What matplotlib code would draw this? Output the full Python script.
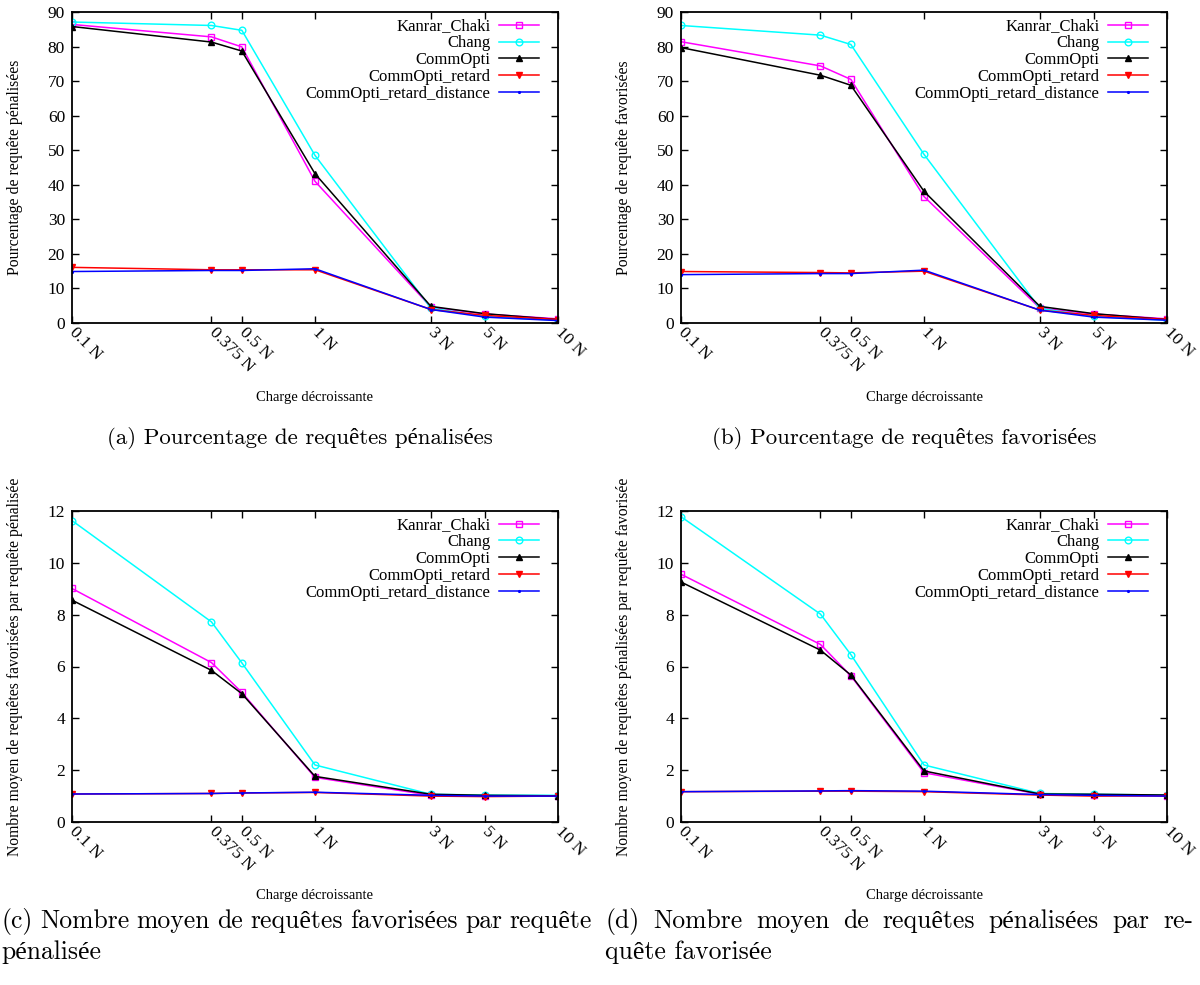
import matplotlib
matplotlib.use("Agg")
import matplotlib.pyplot as plt
from matplotlib.ticker import FixedLocator, NullLocator, FixedFormatter

plt.rcParams['font.family'] = ['Liberation Serif', 'DejaVu Serif']

# ---------------- data ----------------
charge = [0.1, 0.375, 0.5, 1, 3, 5, 10]
charge_labels = ['0.1 N', '0.375 N', '0.5 N', '1 N', '3 N', '5 N', '10 N']
series_names = ['Kanrar_Chaki', 'Chang', 'CommOpti', 'CommOpti_retard', 'CommOpti_retard_distance']

# (a) Pourcentage de requetes penalisees
a_kanrar = [86.4, 82.8, 79.9, 41.0, 4.6, 2.6, 1.2]
a_chang = [87.1, 86.1, 84.7, 48.5, 4.3, 1.9, 0.8]
a_commopti = [85.8, 81.3, 78.7, 43.2, 4.8, 2.7, 1.0]
a_retard = [16.1, 15.4, 15.4, 15.4, 3.9, 2.2, 1.0]
a_distance = [14.9, 15.2, 15.2, 15.7, 3.9, 1.7, 0.7]

# (b) Pourcentage de requetes favorisees
b_kanrar = [81.4, 74.4, 70.5, 36.6, 4.3, 2.6, 1.2]
b_chang = [86.1, 83.3, 80.6, 48.8, 4.2, 1.9, 0.8]
b_commopti = [79.7, 71.7, 68.8, 38.1, 4.8, 2.7, 1.0]
b_retard = [14.9, 14.6, 14.5, 15.0, 3.7, 2.2, 1.0]
b_distance = [14.0, 14.3, 14.3, 15.3, 3.7, 1.7, 0.8]

# (c) Nombre moyen de requetes favorisees par requete penalisee
c_kanrar = [9.01, 6.15, 5.00, 1.72, 1.03, 1.00, 1.01]
c_chang = [11.63, 7.72, 6.14, 2.20, 1.07, 1.04, 1.03]
c_commopti = [8.56, 5.85, 4.95, 1.76, 1.07, 1.03, 1.01]
c_retard = [1.08, 1.10, 1.12, 1.14, 1.00, 0.98, 1.00]
c_distance = [1.08, 1.10, 1.12, 1.15, 1.03, 1.00, 1.00]

# (d) Nombre moyen de requetes penalisees par requete favorisee
d_kanrar = [9.56, 6.85, 5.64, 1.90, 1.07, 1.05, 1.01]
d_chang = [11.78, 8.02, 6.46, 2.20, 1.10, 1.07, 1.04]
d_commopti = [9.26, 6.63, 5.67, 1.97, 1.08, 1.07, 1.04]
d_retard = [1.17, 1.19, 1.19, 1.17, 1.04, 1.00, 1.01]
d_distance = [1.17, 1.20, 1.21, 1.19, 1.06, 1.03, 1.00]

panel_ylabels = ['Pourcentage de requête pénalisées',
                 'Pourcentage de requête favorisées',
                 'Nombre moyen de requêtes favorisées par requête pénalisée',
                 'Nombre moyen de requêtes pénalisées par requête favorisée']
xlabel_text = 'Charge décroissante'
captions_top = ['(a) Pourcentage de requêtes pénalisées',
                '(b) Pourcentage de requêtes favorisées']
caption_c = ['(c) Nombre moyen de requêtes favorisées par requête', 'pénalisée']
caption_d = ['(d) Nombre moyen de requêtes pénalisées par re-', 'quête favorisée']

panels = [
    [a_kanrar, a_chang, a_commopti, a_retard, a_distance],
    [b_kanrar, b_chang, b_commopti, b_retard, b_distance],
    [c_kanrar, c_chang, c_commopti, c_retard, c_distance],
    [d_kanrar, d_chang, d_commopti, d_retard, d_distance],
]
ylims = [(0, 90), (0, 90), (0, 12), (0, 12)]
yticks = [list(range(0, 91, 10)), list(range(0, 91, 10)), list(range(0, 13, 2)), list(range(0, 13, 2))]

styles = [
    dict(color='#ff00ff', marker='s', markerfacecolor='none', markersize=4.8, markeredgewidth=1.0),
    dict(color='#00ffff', marker='o', markerfacecolor='none', markersize=4.8, markeredgewidth=1.0),
    dict(color='#000000', marker='^', markersize=4.8),
    dict(color='#ff0000', marker='v', markersize=4.8),
    dict(color='#0000ff', marker='.', markersize=2.5),
]

W, H = 1200, 985
fig = plt.figure(figsize=(W / 100, H / 100), dpi=100)

# axes boxes in pixels: (left, top, right, bottom)
boxes = [(72, 12, 558, 323), (681, 12, 1167, 323), (72, 511, 558, 822), (681, 511, 1167, 822)]

for i, (l, t, r, b) in enumerate(boxes):
    ax = fig.add_axes([l / W, 1 - b / H, (r - l) / W, (b - t) / H])
    for name, vals, st in zip(series_names, panels[i], styles):
        ax.plot(charge, vals, label=name, lw=1.1, **st)
    ax.set_xscale('log')
    ax.set_xlim(0.1, 10)
    ax.set_ylim(*ylims[i])
    ax.xaxis.set_major_locator(FixedLocator(charge))
    ax.xaxis.set_major_formatter(FixedFormatter(charge_labels))
    ax.xaxis.set_minor_locator(NullLocator())
    ax.set_yticks(yticks[i])
    ax.tick_params(axis='both', direction='in', length=5, width=1.0, labelsize=12.5,
                   top=True, right=True, pad=5)
    for lab in ax.get_xticklabels():
        lab.set_rotation(-45)
        lab.set_ha('left')
        lab.set_va('center')
        lab.set_rotation_mode('anchor')
    for s in ax.spines.values():
        s.set_linewidth(1.3)
    ax.set_xlabel(xlabel_text, fontsize=10.5)
    ax.xaxis.set_label_coords(0.5, -(397 - 323) / 311)
    ax.xaxis.label.set_va('center')
    ax.set_ylabel(panel_ylabels[i], fontsize=11.3)
    ax.yaxis.set_label_coords(-57 / 486, 0.5)
    ax.yaxis.label.set_va('center')
    ax.legend(loc='upper right', bbox_to_anchor=(1 - 19 / 486, 1 - 6.5 / 311), frameon=False,
              markerfirst=False, numpoints=1, fontsize=12, labelspacing=0.05,
              handlelength=2.4, handletextpad=0.5, borderpad=0, borderaxespad=0)

cap_font = ['cmr10', 'Liberation Serif']
cap_size = 16.5
cap_size_bottom = 18.5


def justified(line, x0, x1, y, size):
    words = line.split(' ')
    r = fig.canvas.get_renderer()
    texts = [fig.text(0, 0, w, fontsize=size, family=cap_font, va='baseline', ha='left')
             for w in words]
    widths = [t.get_window_extent(renderer=r).width for t in texts]
    gap = ((x1 - x0) - sum(widths)) / max(len(words) - 1, 1)
    x = x0
    for t, w in zip(texts, widths):
        t.set_position((x / W, 1 - y / H))
        x += w + gap


fig.canvas.draw()
fig.text(300 / W, 1 - 444 / H, captions_top[0], fontsize=cap_size, family=cap_font, ha='center', va='baseline')
fig.text(904 / W, 1 - 444 / H, captions_top[1], fontsize=cap_size, family=cap_font, ha='center', va='baseline')
justified(caption_c[0], 1, 592, 928, cap_size_bottom)
fig.text(1 / W, 1 - 959 / H, caption_c[1], fontsize=cap_size_bottom, family=cap_font, ha='left', va='baseline')
justified(caption_d[0], 605, 1193, 928, cap_size_bottom)
fig.text(605 / W, 1 - 959 / H, caption_d[1], fontsize=cap_size_bottom, family=cap_font, ha='left', va='baseline')

fig.savefig('out.png', dpi=100)
